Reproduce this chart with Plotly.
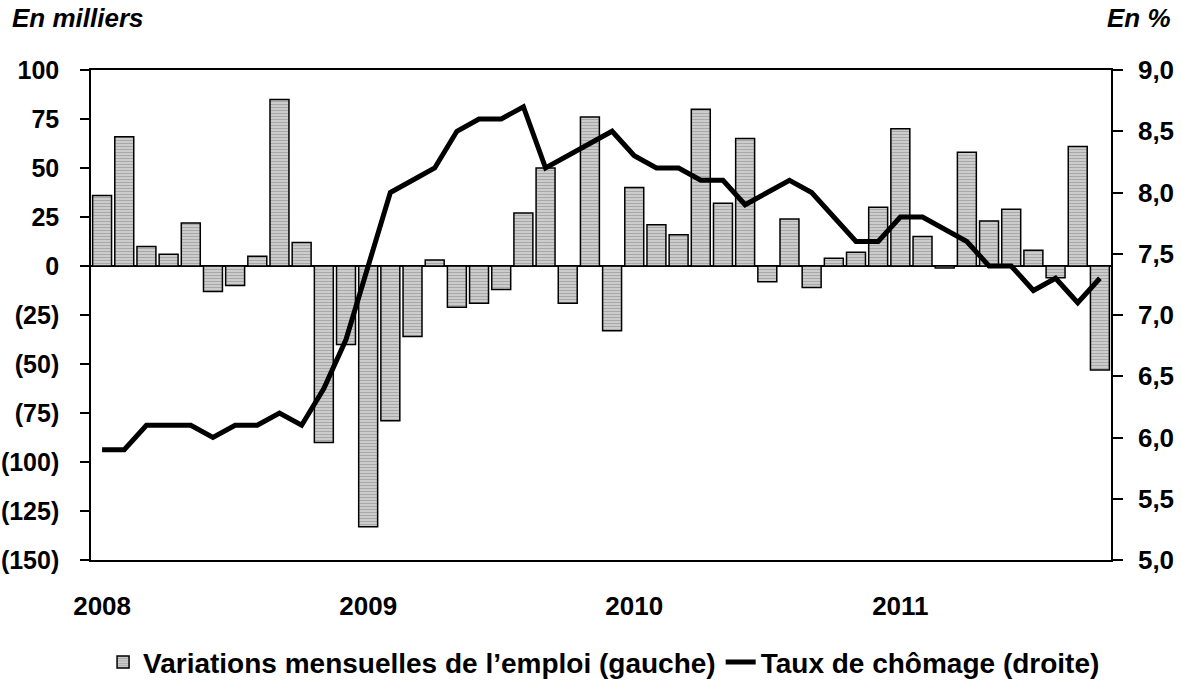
import plotly.graph_objects as go

# Monthly data, Jan 2008 – Oct 2011
months = list(range(46))
emploi = [36, 66, 10, 6, 22, -13, -10, 5, 85, 12, -90, -40,
          -133, -79, -36, 3, -21, -19, -12, 27, 50, -19, 76, -33,
          40, 21, 16, 80, 32, 65, -8, 24, -11, 4, 7, 30, 70, 15,
          -1, 58, 23, 29, 8, -6, 61, -53]
chomage = [5.9, 5.9, 6.1, 6.1, 6.1, 6.0, 6.1, 6.1, 6.2, 6.1, 6.4, 6.8,
           7.4, 8.0, 8.1, 8.2, 8.5, 8.6, 8.6, 8.7, 8.2, 8.3, 8.4, 8.5,
           8.3, 8.2, 8.2, 8.1, 8.1, 7.9, 8.0, 8.1, 8.0, 7.8, 7.6, 7.6,
           7.8, 7.8, 7.7, 7.6, 7.4, 7.4, 7.2, 7.3, 7.1, 7.3]
year_pos = [0, 12, 24, 36]
year_labels = ["2008", "2009", "2010", "2011"]
left_vals = [-150, -125, -100, -75, -50, -25, 0, 25, 50, 75, 100]
left_text = ["(150)", "(125)", "(100)", "(75)", "(50)", "(25)", "0", "25", "50", "75", "100"]
right_vals = [5.0, 5.5, 6.0, 6.5, 7.0, 7.5, 8.0, 8.5, 9.0]
right_text = ["5,0", "5,5", "6,0", "6,5", "7,0", "7,5", "8,0", "8,5", "9,0"]

FONT = "Liberation Sans"

fig = go.Figure()
fig.add_trace(go.Bar(
    x=months, y=emploi, name="Variations mensuelles de l\u2019emploi (gauche)",
    marker=dict(color="#d8d8d8",
                line=dict(color="black", width=1.5),
                pattern=dict(shape="-", size=3, solidity=0.5,
                             fgcolor="#777777", bgcolor="#d8d8d8")),
    yaxis="y",
))
fig.add_trace(go.Scatter(
    x=months, y=chomage, name="Taux de ch\u00f4mage (droite)",
    mode="lines", line=dict(color="black", width=5),
    yaxis="y2",
))

fig.update_layout(
    width=1182, height=700,
    margin=dict(l=91, r=71, t=70, b=138),
    plot_bgcolor="white", paper_bgcolor="white",
    bargap=0.145,
    font=dict(family=FONT, size=26, color="black"),
    xaxis=dict(range=[-0.5, 45.5], tickvals=year_pos, ticktext=year_labels,
               tickfont=dict(family=FONT, size=26, weight="bold"),
               ticks="", showgrid=False, zeroline=False, automargin=False,
               showline=True, mirror=True, linecolor="black", linewidth=1.5,
               ticklabelstandoff=22),
    yaxis=dict(range=[-150, 100], tickvals=left_vals, ticktext=left_text,
               tickfont=dict(family=FONT, size=25, weight="bold"),
               ticks="outside", ticklen=9, tickwidth=1.5, tickcolor="black",
               showgrid=False, zeroline=True, zerolinecolor="black", zerolinewidth=2,
               showline=True, linecolor="black", linewidth=1.5, automargin=False,
               ticklabelstandoff=16),
    yaxis2=dict(range=[5, 9], tickvals=right_vals, ticktext=right_text,
                overlaying="y", side="right",
                tickfont=dict(family=FONT, size=26, weight="bold"),
                ticks="outside", ticklen=10, tickwidth=1.5, tickcolor="black",
                showgrid=False, zeroline=False, automargin=False,
                showline=True, linecolor="black", linewidth=1.5,
                ticklabelstandoff=10),
    legend=dict(orientation="h", x=0.503, xanchor="center", y=-0.209, yanchor="middle",
                font=dict(family=FONT, size=28, weight="bold"),
                itemwidth=30, tracegroupgap=0, bgcolor="rgba(0,0,0,0)"),
    showlegend=True,
    annotations=[
        dict(text="<b><i>En milliers</i></b>", xref="paper", yref="paper",
             x=-0.0794, y=1.106, xanchor="left", yanchor="middle",
             showarrow=False, font=dict(family=FONT, size=26)),
        dict(text="<b><i>En %</i></b>", xref="paper", yref="paper",
             x=1.0608, y=1.106, xanchor="right", yanchor="middle",
             showarrow=False, font=dict(family=FONT, size=26)),
    ],
)

fig.write_html("out.html", config={"displayModeBar": False},
               post_script="document.body.style.margin='0px';")
